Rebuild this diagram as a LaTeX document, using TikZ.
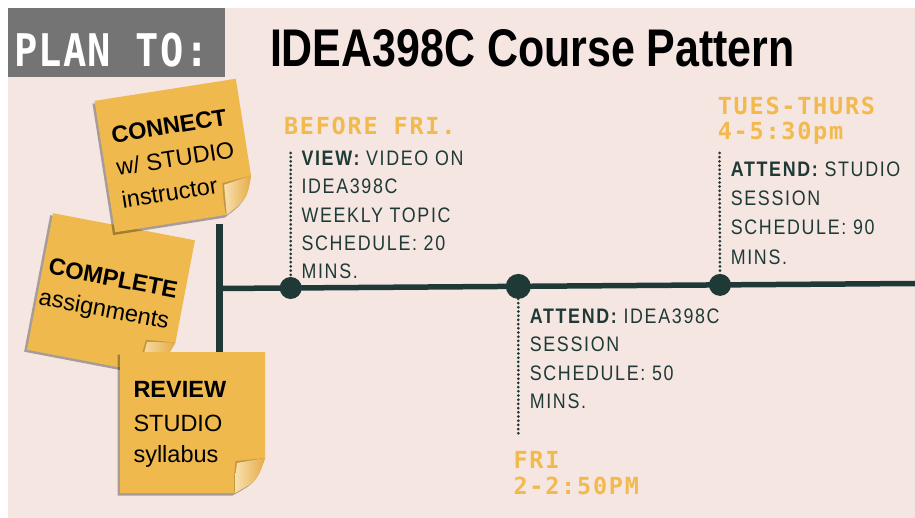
\documentclass[tikz,border=0pt]{standalone}
\usepackage{fontspec}
\newfontfamily\planfont{DejaVu Sans Mono}[FakeStretch=0.86,LetterSpace=3]
\newfontfamily\headfont{DejaVu Sans Mono}[LetterSpace=7.5]
\newfontfamily\titlefont{Liberation Sans}[FakeStretch=0.81]
\newfontfamily\bodyfont{Liberation Sans}[FakeStretch=0.85,LetterSpace=8]
\newfontfamily\notefont{Liberation Sans}
\definecolor{bgpink}{HTML}{F5E6E2}
\definecolor{plangray}{HTML}{747474}
\definecolor{dkgreen}{HTML}{1F3A36}
\definecolor{noteorange}{HTML}{F0B94E}
\definecolor{headorange}{HTML}{F2BA4E}
\definecolor{flaplight}{HTML}{F8E0B0}
\definecolor{flapdark}{HTML}{E5AC45}
\tikzset{
  txt/.style={anchor=base west, inner sep=0pt, outer sep=0pt},
  headtxt/.style={txt, text=headorange, font=\headfont\bfseries\fontsize{23.5}{26}\selectfont},
  bodytxt/.style={txt, text=dkgreen, font=\bodyfont\fontsize{21}{24}\selectfont},
  notetxt/.style={txt, text=black, font=\notefont\fontsize{23.5}{26}\selectfont},
  notetxtc/.style={notetxt, anchor=base},
  tline/.style={draw=dkgreen, line width=5.5pt},
  vline/.style={draw=dkgreen, line width=7pt},
  dotline/.style={draw=dkgreen, line width=3pt, line cap=round, dash pattern=on 0pt off 4.2pt},
  tdot/.style={circle, fill=dkgreen, inner sep=0pt, outer sep=0pt},
  noteshadow/.style={fill=black, opacity=0.32},
  notepaper/.style={fill=noteorange},
}
\newcommand\notepaperdraw[2]{%
  \fill[noteshadow] (-#1-2.5,-#2+2.5) -- (#1-2.5,-#2+2.5) -- (#1-2.5,#2-35+2.5)
     .. controls (#1-10.5,#2-12+2.5) .. (#1-32.5,#2+2.5) -- (-#1-2.5,#2+2.5) -- cycle;
  \fill[notepaper] (-#1,-#2) -- (#1,-#2) -- (#1,#2-35)
     .. controls (#1-8,#2-12) .. (#1-30,#2) -- (-#1,#2) -- cycle;
  \fill[black, opacity=0.18] (#1,#2-35) .. controls (#1-8,#2-12) .. (#1-30,#2)
     -- (#1-31,#2-2) .. controls (#1-31,#2-16) .. (#1-29.5,#2-32) -- cycle;
  \shade[left color=flaplight, right color=flapdark] (#1,#2-35)
     .. controls (#1-8,#2-12) .. (#1-30,#2)
     .. controls (#1-30,#2-15) .. (#1-28,#2-30)
     .. controls (#1-14,#2-33) .. (#1,#2-35) -- cycle;
}
\begin{document}
\begin{tikzpicture}[x=1pt,y=-1pt]
\useasboundingbox (0,0) rectangle (915,518);
\fill[white] (0,0) rectangle (915,518);
\fill[bgpink] (8,8) rectangle (915,518);

% header
\fill[plangray] (8,8) rectangle (225,77.5);
\node[txt, text=white, font=\planfont\bfseries\fontsize{45}{50}\selectfont] (plan) at (14,67) {PLAN TO:};
\node[txt, text=black, font=\titlefont\bfseries\fontsize{53}{60}\selectfont] (title) at (270,66.7) {IDEA398C Course Pattern};

% timeline
\coordinate (vT) at (219.5,224);
\coordinate (vB) at (219.5,370);
\coordinate (tlL) at (219.5,288.5);
\coordinate (tlR) at (915,283.5);
\draw[vline] (vT) -- (vB);
\draw[tline] (tlL) -- (tlR);
\node[tdot, minimum size=22pt] (dA) at (290.7,288.0) {};
\node[tdot, minimum size=25pt] (dB) at (518.3,286.4) {};
\node[tdot, minimum size=22pt] (dC) at (720,284.9) {};
\coordinate (tA) at (290.7,153);
\coordinate (tB) at (518.3,436);
\coordinate (tC) at (719.5,153);
\draw[dotline] (tA) -- (dA);
\draw[dotline] (dB) -- (tB);
\draw[dotline] (tC) -- (dC);

% block A
\node[headtxt] (hA) at (284,134.3) {BEFORE FRI.};
\node[bodytxt] (a1) at (301.5,165.7) {{\bfseries VIEW:} VIDEO ON};
\node[bodytxt] (a2) at (301.5,194) {IDEA398C};
\node[bodytxt] (a3) at (301.5,222.3) {WEEKLY TOPIC};
\node[bodytxt] (a4) at (301.5,250.7) {SCHEDULE: 20};
\node[bodytxt] (a5) at (301.5,279) {MINS.};

% block B
\node[bodytxt] (b1) at (529.8,323.3) {{\bfseries ATTEND:} IDEA398C};
\node[bodytxt] (b2) at (529.8,351.7) {SESSION};
\node[bodytxt] (b3) at (529.8,380) {SCHEDULE: 50};
\node[bodytxt] (b4) at (529.8,408.3) {MINS.};
\node[headtxt] (hB1) at (513.5,468.3) {FRI};
\node[headtxt] (hB2) at (513.5,494) {2-2:50PM};

% block C
\node[headtxt] (hC1) at (717.8,115) {TUES-THURS};
\node[headtxt] (hC2) at (717.8,140) {4-5:30pm};
\node[bodytxt] (c1) at (730.8,176.7) {{\bfseries ATTEND:} STUDIO};
\node[bodytxt] (c2) at (730.8,206) {SESSION};
\node[bodytxt] (c3) at (730.8,235) {SCHEDULE: 90};
\node[bodytxt] (c4) at (730.8,264.3) {MINS.};

% note 2 (COMPLETE)
\begin{scope}[shift={(111,295)}, rotate=-10.8, transform shape]
  \notepaperdraw{72.2}{69.5}
  \node[notetxtc, font=\notefont\bfseries\fontsize{23.5}{26}\selectfont] (n2a) at (-1,-8.8) {COMPLETE};
  \node[notetxtc] (n2b) at (-4,23) {assignments};
\end{scope}

% note 1 (CONNECT)
\begin{scope}[shift={(175.5,155.5)}, rotate=8.9, transform shape]
  \notepaperdraw{71.5}{66.5}
  \node[notetxt, font=\notefont\bfseries\fontsize{23.5}{26}\selectfont] (n1a) at (-60,-22) {CONNECT};
  \node[notetxt] (n1b) at (-60,11) {w/ STUDIO};
  \node[notetxt] (n1c) at (-60,44) {instructor};
\end{scope}

% note 3 (REVIEW)
\begin{scope}[shift={(192.5,422.5)}]
  \notepaperdraw{72.5}{70.5}
  \node[notetxt, font=\notefont\bfseries\fontsize{23.5}{26}\selectfont] (n3a) at (-59,-25) {REVIEW};
  \node[notetxt] (n3b) at (-59,8.5) {STUDIO};
  \node[notetxt] (n3c) at (-59,39.5) {syllabus};
\end{scope}
\end{tikzpicture}
\end{document}
